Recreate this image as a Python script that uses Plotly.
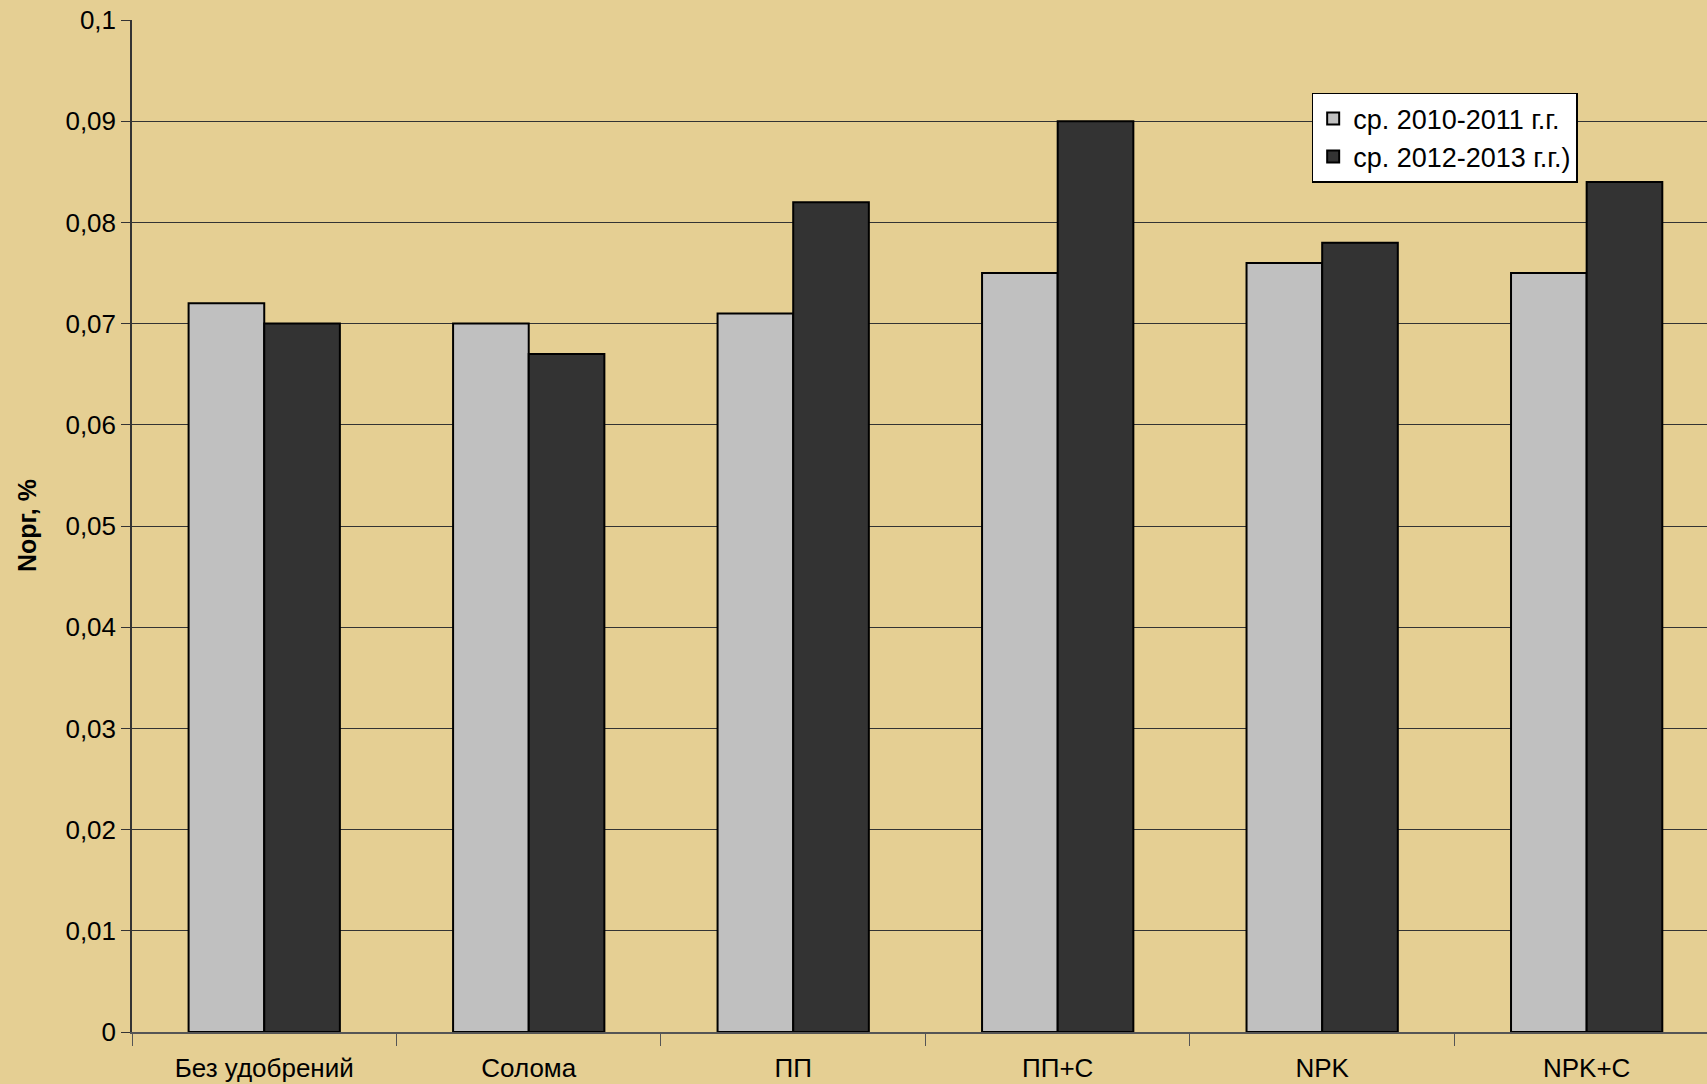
import plotly.graph_objects as go

categories = ["Без удобрений", "Солома", "ПП", "ПП+С", "NPK", "NPK+C"]
series_names = ["ср. 2010-2011 г.г.", "ср. 2012-2013 г.г.)"]
avg_2010_2011 = [0.072, 0.070, 0.071, 0.075, 0.076, 0.075]
avg_2012_2013 = [0.070, 0.067, 0.082, 0.090, 0.078, 0.084]
y_tickvals = [0, 0.01, 0.02, 0.03, 0.04, 0.05, 0.06, 0.07, 0.08, 0.09, 0.1]
y_ticktext = ["0", "0,01", "0,02", "0,03", "0,04", "0,05", "0,06", "0,07", "0,08", "0,09", "0,1"]

FONT = "Liberation Sans, Arial, sans-serif"
BG = "#E5CF93"

fig = go.Figure()
fig.add_trace(go.Bar(x=categories, y=avg_2010_2011, name=series_names[0],
                     marker=dict(color="#C0C0C0", line=dict(color="#000000", width=2))))
fig.add_trace(go.Bar(x=categories, y=avg_2012_2013, name=series_names[1],
                     marker=dict(color="#333333", line=dict(color="#000000", width=2))))

fig.update_layout(
    width=1707, height=1084,
    margin=dict(l=132, r=0, t=20, b=52),
    paper_bgcolor=BG, plot_bgcolor=BG,
    barmode="group", bargap=0.428, bargroupgap=0,
    font=dict(family=FONT, size=26, color="#000000"),
    showlegend=True,
    legend=dict(x=0.749, y=0.928, xanchor="left", yanchor="top",
                bgcolor="#FFFFFF", bordercolor="#000000", borderwidth=1.5,
                font=dict(size=27, family=FONT), tracegroupgap=0,
                itemwidth=30),
    xaxis=dict(range=[-0.5, 5.455], showgrid=False, ticks="outside",
               tickson="boundaries", ticklen=12, tickcolor="#555555",
               showline=True, linecolor="#555555", linewidth=2,
               tickfont=dict(size=26, family=FONT), ticklabelstandoff=12),
    yaxis=dict(range=[0, 0.1], tickvals=y_tickvals, ticktext=y_ticktext,
               showgrid=True, gridcolor="#333333", gridwidth=1,
               ticks="outside", ticklen=9, tickcolor="#333333",
               showline=True, linecolor="#333333", linewidth=1.5,
               zeroline=False, tickfont=dict(size=26, family=FONT)),
    annotations=[dict(text="<b>Nорг, %</b>", xref="paper", yref="paper",
                      x=(27 - 132) / 1575, y=0.5, textangle=-90, showarrow=False,
                      font=dict(size=25, family=FONT), xanchor="center", yanchor="middle")],
)

fig.write_html("out.html")
